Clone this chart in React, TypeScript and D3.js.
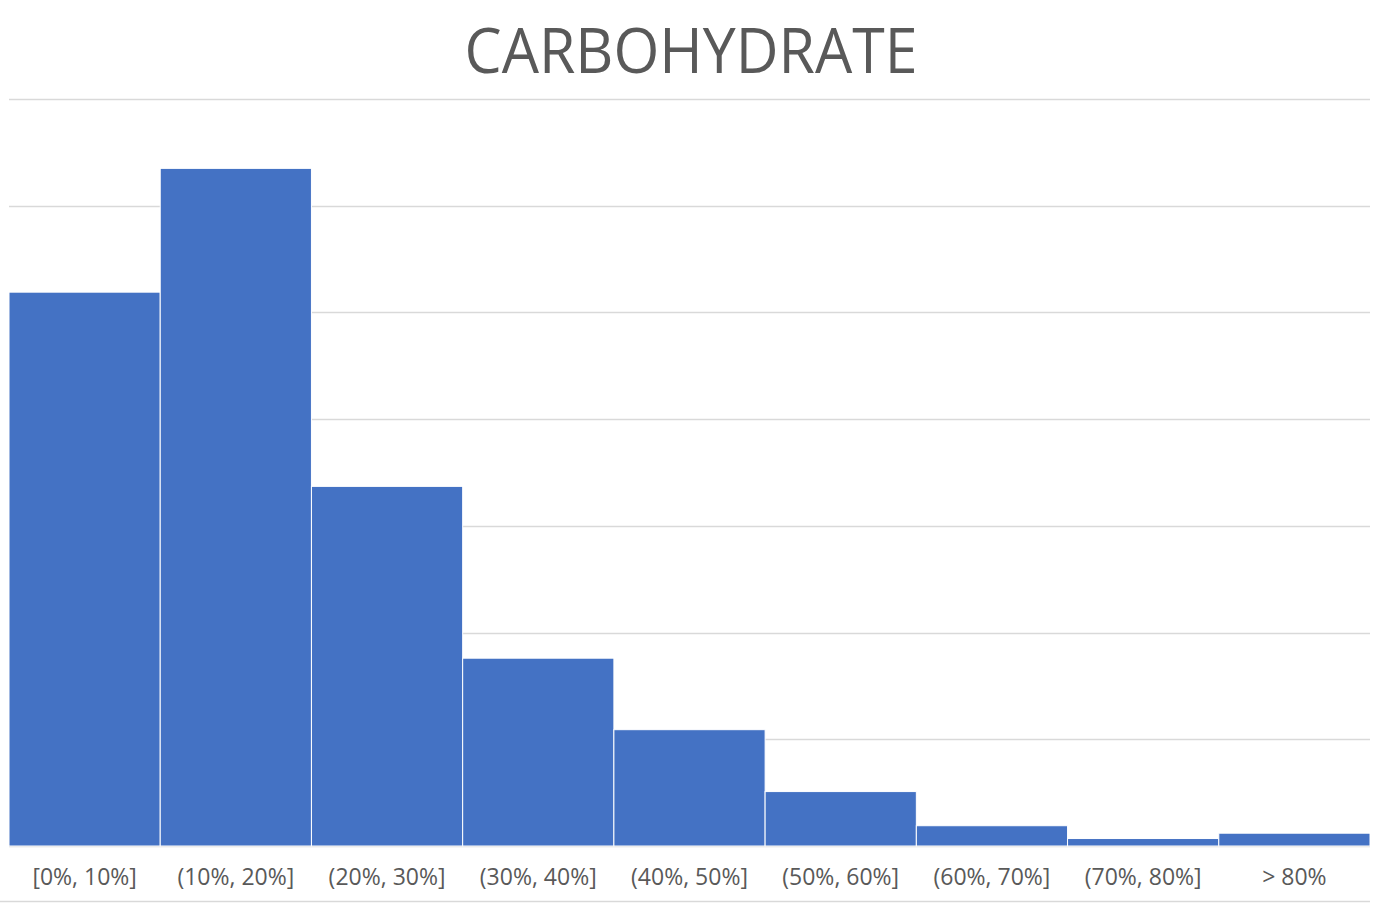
import React, { useEffect, useRef } from 'react';
import * as d3 from 'd3';

const bins = ['[0%, 10%]', '(10%, 20%]', '(20%, 30%]', '(30%, 40%]', '(40%, 50%]', '(50%, 60%]', '(60%, 70%]', '(70%, 80%]', '> 80%'];
const counts = [519, 635, 337, 176, 109, 51, 19, 7, 12];
const yTicks = [0, 100, 200, 300, 400, 500, 600, 700];

const W = 1382;
const H = 906;

const App: React.FC = () => {
  const svgRef = useRef<SVGSVGElement>(null);

  useEffect(() => {
    if (!svgRef.current) return;
    const margin = { top: 99, right: 12, bottom: 60, left: 9 };

    const svg = d3.select(svgRef.current);
    svg.selectAll('*').remove();

    const x = d3.scaleBand<string>()
      .domain(bins)
      .range([margin.left, W - margin.right])
      .padding(0);

    const y = d3.scaleLinear()
      .domain([0, 700])
      .range([H - margin.bottom, margin.top]);

    // gridlines
    svg.append('g')
      .selectAll('line')
      .data(yTicks)
      .join('line')
      .attr('x1', margin.left)
      .attr('x2', W - margin.right)
      .attr('y1', d => Math.round(y(d)) + 0.5)
      .attr('y2', d => Math.round(y(d)) + 0.5)
      .attr('stroke', '#d9d9d9')
      .attr('stroke-width', 1.3);

    // bars (white 1px seam between them)
    svg.append('g')
      .selectAll('rect')
      .data(bins)
      .join('rect')
      .attr('x', d => x(d)!)
      .attr('y', (d, i) => y(counts[i]))
      .attr('width', x.bandwidth())
      .attr('height', (d, i) => y(0) - y(counts[i]))
      .attr('fill', '#4472c4')
      .attr('stroke', '#ffffff')
      .attr('stroke-width', 1);

    // x axis labels
    svg.append('g')
      .selectAll('text')
      .data(bins)
      .join('text')
      .attr('x', d => x(d)! + x.bandwidth() / 2)
      .attr('y', y(0) + 39)
      .attr('text-anchor', 'middle')
      .style('font-family', 'Open Sans, Noto Sans, sans-serif')
      .style('font-size', '23px')
      .style('fill', '#595959')
      .text(d => d);

    // chart bottom border
    svg.append('line')
      .attr('x1', 0)
      .attr('x2', W - margin.right)
      .attr('y1', 901.5)
      .attr('y2', 901.5)
      .attr('stroke', '#d9d9d9')
      .attr('stroke-width', 1.3);

    // title
    svg.append('text')
      .attr('x', W / 2)
      .attr('y', 73)
      .attr('text-anchor', 'middle')
      .attr('textLength', 453)
      .attr('lengthAdjust', 'spacingAndGlyphs')
      .style('font-family', 'Open Sans, Noto Sans, sans-serif')
      .style('font-size', '62px')
      .style('fill', '#595959')
      .text('CARBOHYDRATE');
  }, []);

  return (
    <div style={{ position: 'absolute', left: 0, top: 0, background: '#fff' }}>
      <svg ref={svgRef} width={W} height={H} />
    </div>
  );
};

export default App;
